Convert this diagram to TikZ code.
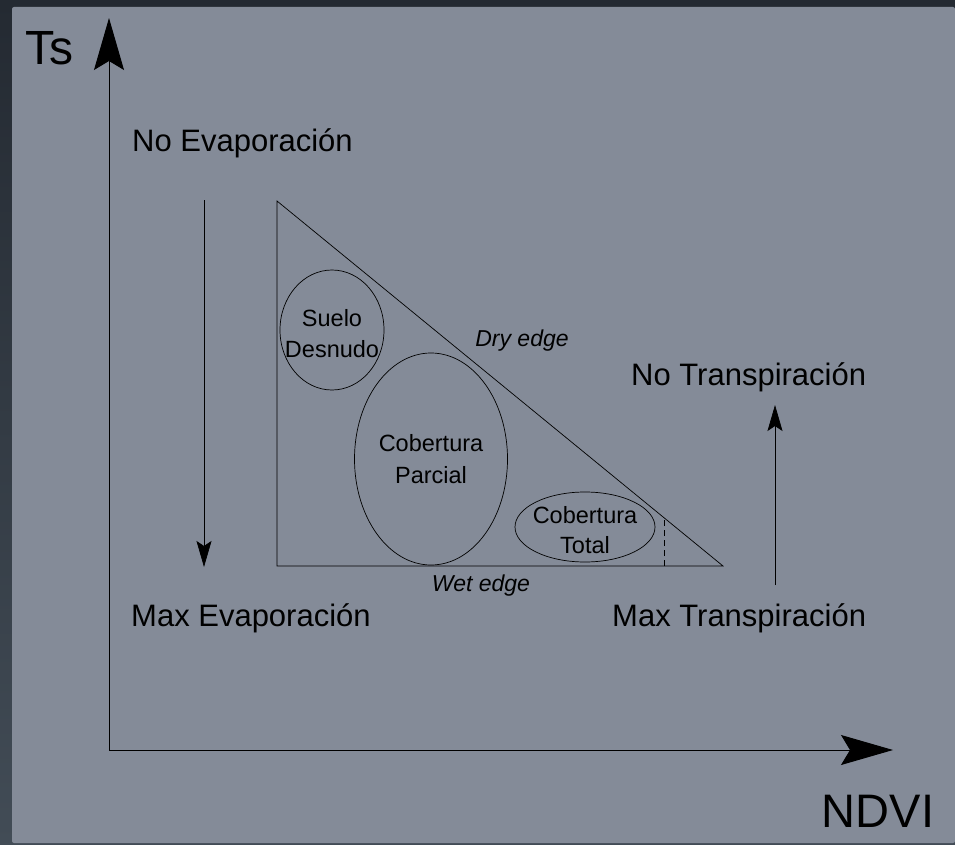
\documentclass[tikz,border=0pt]{standalone}
\usepackage{fontspec}
\setmainfont{Liberation Sans}
\usepackage{tikz}
\usetikzlibrary{arrows,arrows.meta,positioning,shapes}
\definecolor{panel}{RGB}{132,139,152}
\definecolor{frametop}{RGB}{36,42,50}
\definecolor{framebot}{RGB}{66,76,86}

\begin{document}
\begin{tikzpicture}[x=1pt,y=-1pt]
\tikzstyle{axis}=[line width=1pt,-{Stealth[length=52pt,width=30pt,inset=9pt]}]
\tikzstyle{flow}=[line width=0.7pt,-{Stealth[length=26pt,width=15pt,inset=5pt]}]
\tikzstyle{zone}=[draw=black,ellipse,inner sep=0pt,line width=0.7pt]
\tikzstyle{zonetext}=[inner sep=0pt,align=center,font=\fontsize{23.5}{30}\selectfont]
\tikzstyle{big}=[inner sep=0pt,font=\fontsize{31}{36}\selectfont]
\tikzstyle{huge}=[inner sep=0pt,font=\fontsize{48}{50}\selectfont]
\tikzstyle{edgelabel}=[inner sep=0pt,font=\fontsize{23}{28}\selectfont\itshape]
\useasboundingbox (0,0) rectangle (955,845);
\shade [top color=frametop,bottom color=framebot] (0,0) rectangle (955,845);
\fill [panel,rounded corners=2pt] (12,7) rectangle (955,843);
\coordinate (O) at (109,750);
\coordinate (ytip) at (109,18);
\coordinate (xtip) at (893,750);
\draw [axis] (O) -- (ytip);
\draw [axis] (O) -- (xtip);
\node [huge] (ts) at (49,48) {Ts};
\node [huge,font=\fontsize{47}{50}\selectfont] (ndvi) at (878,811) {NDVI};
\coordinate (top) at (277,201);
\coordinate (left) at (277,566);
\coordinate (right) at (723,566);
\draw [line width=0.7pt] (top) -- (left) -- (right) -- cycle;
\coordinate (d0) at (664,566);
\coordinate (d1) at (664,518);
\draw [line width=0.7pt,dash pattern=on 6pt off 4pt] (d0) -- (d1);
\node [zone,minimum width=104pt,minimum height=120pt] (suelo) at (332,330) {};
\node [zone,minimum width=153pt,minimum height=212pt] (parcial) at (431,459) {};
\node [zone,minimum width=140pt,minimum height=70pt] (total) at (585,527) {};
\node [zonetext,font=\fontsize{23.5}{31}\selectfont] (suelotext) at (332,334) {Suelo\\Desnudo};
\node [zonetext,font=\fontsize{23.5}{32}\selectfont] (parcialtext) at (431,459) {Cobertura\\Parcial};
\node [zonetext] (totaltext) at (585,530) {Cobertura\\Total};
\node [edgelabel] (dry) at (522,341) {Dry edge};
\node [edgelabel] (wet) at (481,586) {Wet edge};
\coordinate (e0) at (204,200);
\coordinate (e1) at (204,567);
\draw [flow] (e0) -- (e1);
\coordinate (t0) at (775,585);
\coordinate (t1) at (775,405);
\draw [flow] (t0) -- (t1);
\node [big,anchor=west] (noevap) at (132,143) {No Evaporación};
\node [big,anchor=west] (maxevap) at (131,618) {Max Evaporación};
\node [big,anchor=west] (notrans) at (631,377) {No Transpiración};
\node [big,anchor=west] (maxtrans) at (612,618) {Max Transpiración};
\end{tikzpicture}
\end{document}
